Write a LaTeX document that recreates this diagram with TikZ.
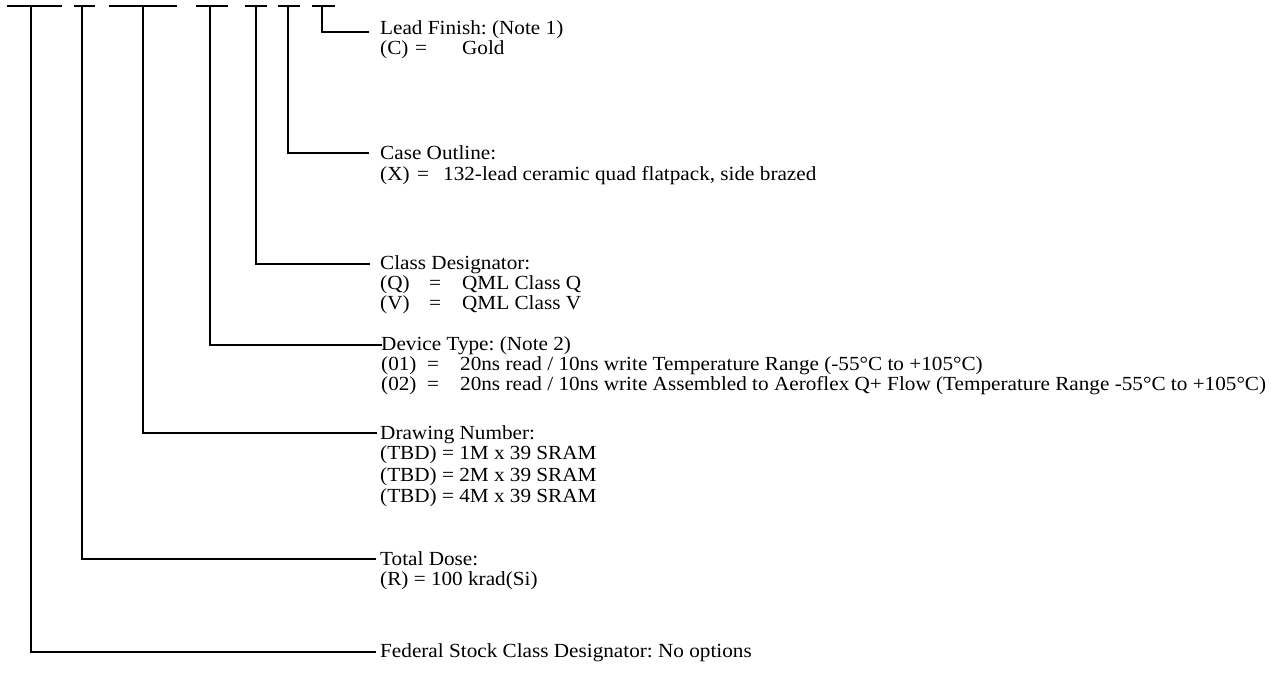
\documentclass[tikz,border=0pt]{standalone}
\usepackage{fontspec}
\setmainfont[FakeStretch=1.06]{Liberation Serif}
\newcommand\pnopt[4]{\makebox[#1pt][l]{#3}\makebox[#2pt][l]{=}#4}
\begin{document}
\frenchspacing
\begin{tikzpicture}[x=1pt,y=-1pt,
  hline/.style={line width=2.8pt, line cap=rect},
  vline/.style={line width=1.9pt},
  dashline/.style={line width=2.4pt},
  txt/.style={anchor=base west, inner sep=0pt, font=\fontsize{20}{20}\selectfont}]
\useasboundingbox (0,0) rectangle (1272,678);
% dashes
\foreach \n/\a/\b/\v in {1/7/62/31, 2/74/95/82, 3/109/177/143, 4/196/228/210, 5/245/267/256, 6/278/300/288, 7/312/335/322}{
  \coordinate (da\n) at (\a,6);
  \coordinate (db\n) at (\b,6);
  \coordinate (d\n) at (\v,6);
  \draw[dashline] (da\n) -- (db\n);
}
% connector ends
\coordinate (e7) at (368,32);
\coordinate (e6) at (368,153);
\coordinate (e5) at (369,264);
\coordinate (e4) at (381,345);
\coordinate (e3) at (376,433);
\coordinate (e2) at (375,559);
\coordinate (e1) at (375,652);
\foreach \n in {1,...,7}{
  \draw[vline] (d\n) -- (d\n |- e\n);
  \draw[hline] (d\n |- e\n) -- (e\n);
}
% texts
\node[txt] (lf)  at (380,34)    {Lead Finish: (Note 1)};
\node[txt] (lfc) at (380,54.5)  {\pnopt{35}{47}{(C)}{Gold}};
\node[txt] (co)  at (380,159.5) {Case Outline:};
\node[txt] (cox) at (380,180.5) {\pnopt{37}{26}{(X)}{132-lead ceramic quad flatpack, side brazed}};
\node[txt] (cd)  at (380,269.5) {Class Designator:};
\node[txt] (cdq) at (380,289.5) {\pnopt{49}{33}{(Q)}{QML Class Q}};
\node[txt] (cdv) at (380,309.5) {\pnopt{49}{33}{(V)}{QML Class V}};
\node[txt] (dt)  at (381,350.5) {Device Type: (Note 2)};
\node[txt] (dt1) at (381,370.5) {\pnopt{46}{33}{(01)}{20ns read / 10ns write Temperature Range (-55°C to +105°C)}};
\node[txt] (dt2) at (381,390.5) {\pnopt{46}{33}{(02)}{20ns read / 10ns write Assembled to Aeroflex Q+ Flow (Temperature Range -55°C to +105°C)}};
\node[txt] (dn)  at (380,439.5) {Drawing Number:};
\node[txt] (dn1) at (380,459.5) {(TBD) = 1M x 39 SRAM};
\node[txt] (dn2) at (380,481)   {(TBD) = 2M x 39 SRAM};
\node[txt] (dn3) at (380,502)   {(TBD) = 4M x 39 SRAM};
\node[txt] (td)  at (380,565.5) {Total Dose:};
\node[txt] (tdr) at (380,585.5) {(R) = 100 krad(Si)};
\node[txt] (fs)  at (380,657.5) {Federal Stock Class Designator: No options};
\end{tikzpicture}
\end{document}
